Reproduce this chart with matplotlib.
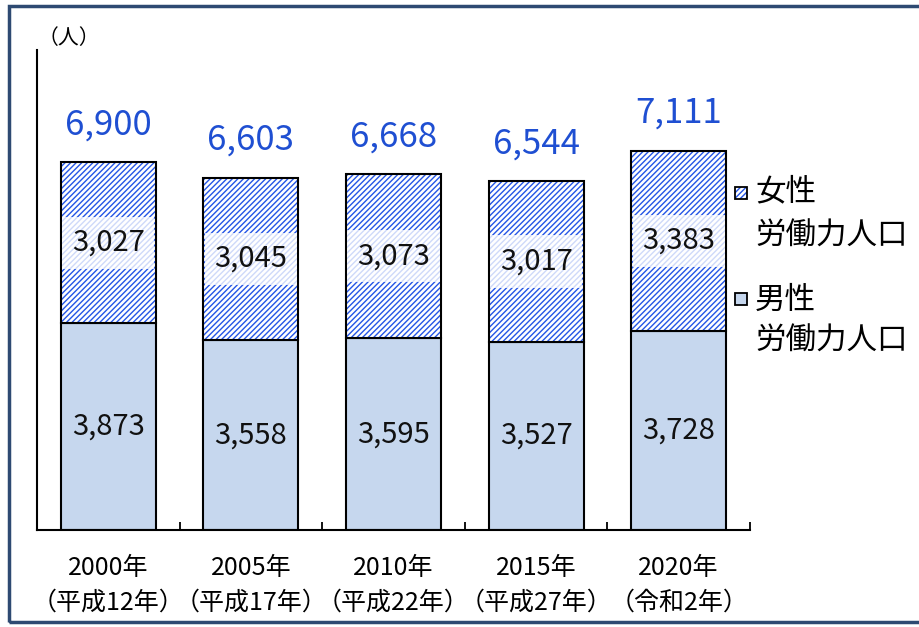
import numpy as np
import matplotlib.pyplot as plt
from matplotlib.patches import Rectangle

plt.rcParams['font.family'] = ['Noto Sans CJK JP', 'DejaVu Sans']
plt.rcParams['hatch.linewidth'] = 1.0

# data
years = ["2000年", "2005年", "2010年", "2015年", "2020年"]
eras = ["（平成12年）", "（平成17年）", "（平成22年）", "（平成27年）", "（令和2年）"]
male = [3873, 3558, 3595, 3527, 3728]
female = [3027, 3045, 3073, 3017, 3383]
total = [6900, 6603, 6668, 6544, 7111]

male_color = "#C6D7EE"
hatch_color = "#2455E6"
total_color = "#1F4FD2"

W, H = 919, 627
fig = plt.figure(figsize=(W / 100, H / 100), dpi=100)
ax = fig.add_axes([37 / W, (H - 530) / H, (750 - 37) / W, 480 / H])

x = np.arange(len(years))
bw = 0.667

# male part
ax.bar(x, male, bw, color=male_color, edgecolor="black", linewidth=1.5, zorder=2)
# female part: hatch in blue, then black outline on top
ax.bar(x, female, bw, bottom=male, color="white", edgecolor=hatch_color,
       hatch="//////", linewidth=0, zorder=2)
ax.bar(x, female, bw, bottom=male, fill=False, edgecolor="black",
       linewidth=1.5, zorder=3)

for i in range(len(x)):
    # male value
    ax.text(x[i], male[i] / 2, f"{male[i]:,}", ha="center", va="center",
            fontsize=21, color="#111111", zorder=5)
    # female value with translucent white band
    yc = male[i] + female[i] / 2
    ax.add_patch(Rectangle((x[i] - bw / 2 + 0.01, yc - 490), bw - 0.02, 980,
                           facecolor="white", edgecolor="none", alpha=0.78,
                           zorder=4))
    ax.text(x[i], yc, f"{female[i]:,}", ha="center", va="center",
            fontsize=21, color="#111111", zorder=5)
    # total
    ax.annotate(f"{total[i]:,}", (x[i], total[i]), xytext=(0, 20),
                textcoords="offset points", ha="center", va="baseline",
                fontsize=25, color=total_color)

ax.set_xlim(-0.5, len(x) - 0.5)
ax.set_ylim(0, 9000)
ax.set_yticks([])
ax.set_xticks(x)
ax.set_xticklabels([f"{y}\n{e}" for y, e in zip(years, eras)],
                   fontsize=18, linespacing=1.45)
ax.tick_params(axis="x", which="major", length=0, pad=18)
ax.set_xticks(np.arange(len(x) + 1) - 0.5, minor=True)
ax.tick_params(axis="x", which="minor", direction="in", length=6, width=1.3)
for s in ["top", "right"]:
    ax.spines[s].set_visible(False)
for s in ["left", "bottom"]:
    ax.spines[s].set_linewidth(1.5)

fig.text(38 / W, 1 - 38 / H, "（人）", fontsize=15, ha="left", va="center")

# legend drawn by hand
fig.patches.append(Rectangle((735 / W, 1 - 199 / H), 12 / W, 12 / H,
                             transform=fig.transFigure, facecolor="white",
                             edgecolor=hatch_color, hatch="//////", linewidth=0))
fig.patches.append(Rectangle((735 / W, 1 - 199 / H), 12 / W, 12 / H,
                             transform=fig.transFigure, fill=False,
                             edgecolor="black", linewidth=1.3))
fig.patches.append(Rectangle((735 / W, 1 - 305 / H), 12 / W, 12 / H,
                             transform=fig.transFigure, facecolor=male_color,
                             edgecolor="black", linewidth=1.3))
fig.text(755 / W, 1 - 192 / H, "女性", fontsize=22, va="center")
fig.text(755 / W, 1 - 236 / H, "労働力人口", fontsize=22, va="center")
fig.text(755 / W, 1 - 300 / H, "男性", fontsize=22, va="center")
fig.text(755 / W, 1 - 341 / H, "労働力人口", fontsize=22, va="center")

# outer frame
fig.patches.append(Rectangle((9 / W, 1 - 622 / H), 1.2, (622 - 6) / H,
                             transform=fig.transFigure, fill=False,
                             edgecolor="#2E4A72", linewidth=2.5))

fig.savefig("out.png", dpi=100)
